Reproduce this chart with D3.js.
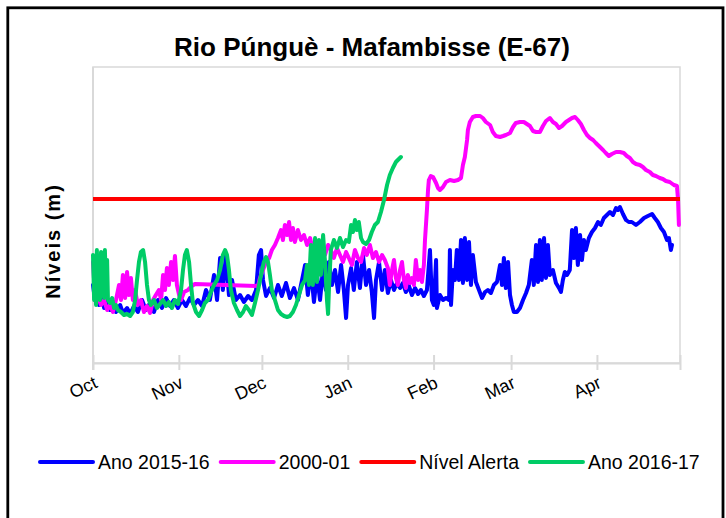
<!DOCTYPE html>
<html><head><meta charset="utf-8">
<script src="https://cdn.jsdelivr.net/npm/d3@7"></script>
<style>body{margin:0;background:#fff}svg{display:block}text{font-family:"Liberation Sans",Arial,sans-serif}</style>
</head><body>
<svg id="c" width="726" height="518"></svg>
<script>
// ---- data: [day since 1 Oct, level (m)] ----
const monthLabels = ["Oct","Nov","Dec","Jan","Feb","Mar","Apr",""];
const seriesNames = ["Ano 2015-16","2000-01","Nível Alerta","Ano 2016-17"];
const seriesColors = ["#0000ff","#ff00ff","#ff0000","#00cc66"];
const nivelAlerta = 1.64;

const ano201516 = [[0,0.78],[0.7,0.63],[1.4,0.88],[2.2,0.58],[2.9,0.73],[4,0.55],[5.1,0.63],[6.1,0.53],[7.2,0.60],[8.3,0.51],[9.8,0.58],[10.8,0.50],[12.3,0.55],[13.4,0.49],[14.8,0.57],[16.2,0.51],[17.7,0.63],[19.1,0.53],[20.6,0.60],[22,0.51],[23.5,0.63],[24.9,0.55],[26.4,0.65],[27.8,0.57],[29.2,0.63],[30.7,0.55],
[32.1,0.63],[33.6,0.57],[35,0.65],[36.5,0.58],[37.9,0.63],[39.4,0.57],[40.8,0.73],[42.2,0.63],[43.7,0.88],[44.8,0.63],[45.9,1.05],[46.9,0.73],[48,1.08],[49.1,0.68],[50.2,0.83],[51.6,0.63],[53.1,0.68],[54.5,0.61],[56,0.67],[57.4,0.63],[58.9,0.73],[59.9,1.08],[60.7,1.13],[61.4,0.83],
[62.5,0.67],[63.9,0.75],[65.4,0.65],[66.8,0.78],[68.2,0.67],[69.7,0.80],[71.1,0.65],[72.6,0.75],[74,0.63],[75.5,0.83],[76.6,0.98],[77.6,0.68],[78.7,0.93],[79.8,0.61],[80.9,0.88],[82,0.63],[83.1,0.95],[84.1,0.73],[85.2,1.01],[86.3,0.78],[87.4,0.93],[88.5,0.71],[89.6,0.98],[90.6,0.73],[91.4,0.45],[92.1,0.78],
[93.2,0.95],[94.2,0.73],[95.3,1.01],[96.4,0.75],[97.5,1.08],[98.6,0.78],[99.7,0.93],[100.7,0.71],[101.5,0.45],[102.2,0.83],[103.3,1.01],[104.4,0.73],[105.4,0.93],[106.5,0.70],[107.6,0.83],[108.7,0.73],[109.8,0.80],[110.9,0.75],[111.9,0.80],[113,0.71],[114.1,0.77],[115.2,0.68],[116.3,0.75],[117.4,0.69],[118.4,0.73],[119.5,0.67],[120.6,0.73],[121.7,1.13],[122.4,0.63],[123.1,0.58],[123.9,1.03],[124.2,0.55],
[125.3,0.68],[126.4,0.63],[127.5,0.65],[128.6,0.63],[128.9,1.13],[129.3,0.58],[130,0.93],[130.7,0.83],[131.4,1.13],[132.2,0.83],[132.9,1.23],[133.6,0.80],[134.3,1.25],[135.1,0.83],[135.8,1.21],[136.5,0.78],[137.2,1.08],[138.3,0.81],[139.4,0.73],[140.5,0.65],[141.6,0.71],[142.6,0.73],[143.7,0.70],[144.8,0.78],[145.9,0.81],[147,0.98],[147.7,0.78],[148.4,1.05],[149.1,0.75],[149.9,1.01],[150.6,0.68],[151.3,0.58],[152,0.51],[153.1,0.51],[154.2,0.55],[155.3,0.63],[156.4,0.70],[157.4,0.78],[158.5,1.03],[159.2,0.78],[160,1.18],[160.7,0.81],[161.4,1.23],[162.1,0.83],[162.9,1.25],[163.6,0.85],[164.3,1.18],[165,0.88],[166.1,0.93],[167.2,0.80],[168.3,0.75],[169,0.71],[169.7,0.83],[170.4,0.91],[171.2,0.88],[172.2,0.93],[173,1.33],[173.7,1.05],[174.4,1.35],[175.1,0.98],[175.9,1.28],[176.6,1.03],[177.3,1.23],[178,1.13],[179.1,1.25],[180.2,1.31],[181.3,1.35],[182.4,1.41],[183.4,1.38],[184.5,1.45],[185.6,1.48],[186.7,1.51],[187.8,1.48],[188.9,1.55],[189.6,1.53],[190.3,1.56],[191.4,1.49],[192.5,1.43],[193.5,1.41],[194.6,1.41],[196.1,1.38],[197.5,1.41],[199,1.45],[200.4,1.47],[201.9,1.49],[202.9,1.45],[204,1.41],[205.1,1.35],[206.2,1.31],[207.3,1.23],[208,1.25],[208.7,1.13],[209.1,1.18]];

const ano200001 = [[0,1.01],[0.7,0.68],[1.4,0.93],[2.2,0.63],[2.9,0.58],[4,0.63],[5.1,0.53],[6.1,0.58],[7.2,0.51],[8.3,0.63],[9.4,0.78],[10.1,0.63],[10.8,0.88],[11.6,0.65],[12.3,0.91],[13,0.68],[13.7,0.85],[14.4,0.63],[15.2,0.73],[16.2,0.58],[17.3,0.63],[18.4,0.51],[19.5,0.57],[20.6,0.50],[21.7,0.63],[22.7,0.68],[23.8,0.73],[24.6,0.63],[25.3,0.88],[26,0.73],[26.7,0.95],[27.4,0.78],[28.2,1.01],[28.9,0.83],[29.6,1.07],[30.3,0.78],[31.1,0.68],[31.8,0.63],[32.9,0.71],[34.3,0.73],[35.7,0.77],[36.8,0.79],
[59.6,0.77],[60.3,0.85],[61.4,0.93],[62.5,1.01],[63.6,1.05],[64.6,1.13],[65.7,1.18],[66.8,1.25],[67.9,1.33],[68.6,1.23],[69.3,1.38],[70.1,1.28],[70.8,1.41],[71.5,1.23],[72.2,1.35],[72.9,1.21],[74,1.33],[75.1,1.23],[76.2,1.28],[77.3,1.18],[78.4,1.25],[79.4,1.13],[80.5,1.21],[81.6,1.11],[82.7,1.15],[83.8,1.08],[84.9,1.18],[85.9,1.13],[87,1.05],[88.1,1.15],[89.2,1.08],[90.3,1.01],[91.4,1.11],[92.4,1.05],[93.5,0.98],[94.6,1.13],[95.7,1.05],[96.8,1.01],[97.9,1.15],[98.9,1.08],[100,1.18],[101.1,1.05],[102.2,1.11],[103.3,1.01],[104.4,1.08],[105.4,1.03],[106.5,0.95],[107.2,0.78],[108,0.93],[108.7,1.03],[109.4,0.85],[110.1,0.78],[110.9,0.93],[111.6,1.01],[112.3,0.83],[113,0.75],[113.7,0.88],[114.5,0.80],[115.2,0.85],[115.9,0.78],[116.6,1.03],[117.4,0.83],[118.1,0.93],[118.8,0.81],[119.5,0.98],[119.9,1.23],[120.6,1.53],[121,1.73],[121.3,1.83],[122,1.87],[122.8,1.86],[123.9,1.80],[124.6,1.75],[125.3,1.73],[126.4,1.76],[127.5,1.81],[128.9,1.83],[130.4,1.82],[131.8,1.83],[132.9,1.85],[133.6,1.98],[134.3,2.06],[135.1,2.23],[135.4,2.33],[136.1,2.41],[137.2,2.46],[138.3,2.47],[139.8,2.47],[140.8,2.45],[141.9,2.41],[143.4,2.38],[144.4,2.31],[145.5,2.27],[147,2.26],[148.1,2.27],[149.1,2.28],[150.6,2.30],[151.7,2.36],[152.7,2.40],[154.2,2.41],[155.6,2.41],[156.7,2.39],[157.8,2.37],[158.9,2.32],[160,2.31],[161.4,2.31],[162.5,2.37],[163.6,2.42],[165,2.45],[166.1,2.41],[167.2,2.39],[168.3,2.35],[169.4,2.37],[170.8,2.41],[171.9,2.43],[173,2.45],[174.1,2.46],[175.1,2.43],[176.2,2.39],[177.3,2.33],[178.4,2.28],[179.5,2.25],[180.6,2.23],[181.6,2.20],[183.1,2.16],[184.2,2.13],[185.2,2.10],[186.3,2.07],[187.4,2.09],[188.9,2.11],[190.3,2.11],[191.7,2.10],[192.8,2.07],[193.9,2.05],[195,2.01],[196.1,1.99],[197.5,1.98],[198.6,1.96],[199.7,1.93],[201.1,1.91],[202.2,1.88],[203.3,1.87],[204.7,1.85],[205.8,1.84],[206.9,1.82],[208.3,1.81],[209.8,1.78],[210.9,1.77],[211.3,1.63],[211.6,1.38]];

const ano201617 = [[0,1.08],[0.4,0.63],[0.7,0.98],[1.1,0.58],[1.4,1.13],[1.8,0.68],[2.2,1.01],[2.5,0.63],[2.9,1.11],[3.2,0.73],[3.6,1.05],[4,0.65],[4.3,1.13],[4.7,0.73],[5.1,1.03],[5.4,0.63],[6.1,0.60],[6.9,0.65],[7.6,0.55],[8.3,0.58],[9,0.53],[10.1,0.51],[11.2,0.48],[12.3,0.49],[13.4,0.47],[14.4,0.51],[15.2,0.63],[15.9,0.83],[16.6,1.01],[17.3,1.11],[18.1,1.13],[18.8,1.01],[19.5,0.78],[20.2,0.63],[20.9,0.58],[22,0.63],[23.1,0.55],[24.2,0.59],[25.3,0.63],[26.4,0.57],[27.4,0.61],[28.5,0.55],[29.6,0.63],[30.7,0.59],[31.8,0.73],[32.5,0.93],[33.2,1.08],[33.9,1.13],[34.7,1.01],[35.4,0.78],[36.1,0.60],[37.2,0.51],[38.3,0.47],[39.4,0.53],[40.4,0.60],[41.5,0.63],[42.6,0.71],[43.7,0.78],[44.8,0.83],[45.9,0.93],[46.9,1.08],[47.7,1.13],[48.4,1.08],[49.1,0.93],[49.8,0.73],[50.9,0.60],[52,0.53],[53.1,0.47],[54.2,0.51],[55.2,0.57],[56.3,0.53],[57.4,0.48],[58.5,0.60],[59.6,0.73],[60.7,0.88],[61.7,1.01],[62.5,1.06],[63.2,1.01],[63.9,0.88],[64.6,0.73],[65.7,0.63],[66.8,0.53],[67.9,0.49],[69,0.47],[70.1,0.46],[71.1,0.47],[72.2,0.51],[73.3,0.58],[74.4,0.68],[75.5,0.78],[76.6,0.83],[77.3,0.98],[78,0.78],[78.7,1.18],[79.4,0.78],[80.2,1.25],[80.9,0.81],[81.6,1.23],[82.3,0.88],[83.1,1.28],[83.8,1.01],[84.5,0.63],[84.9,0.49],[85.2,0.73],[85.9,1.13],[87,1.23],[88.1,1.15],[89.2,1.25],[90.3,1.16],[91.4,1.23],[92.4,1.21],[93.2,1.38],[93.9,1.31],[94.6,1.43],[95.3,1.33],[96,1.41],[96.8,1.25],[97.5,1.21],[98.6,1.19],[99.7,1.23],[100.7,1.31],[101.8,1.38],[102.9,1.41],[104,1.51],[105.1,1.63],[106.2,1.78],[107.2,1.88],[108.3,1.95],[109.4,2.01],[110.1,2.03],[111.2,2.06]];

// ---- chart ----
const svg = d3.select("#c");
const t0 = Date.UTC(2000,9,1), t1 = Date.UTC(2001,4,1);
const x = d3.scaleUtc().domain([t0,t1]).range([93,680]);
const y = d3.scaleLinear().domain([0,2.96]).range([363,67]);
const toDate = d => new Date(t0 + d*864e5);

// outer chart border (open at bottom, cropped)
svg.append("rect").attr("x",7.8).attr("y",7.8).attr("width",715.2).attr("height",600)
  .attr("fill","none").attr("stroke","#000").attr("stroke-width",2.8);

// plot area
svg.append("rect").attr("x",x.range()[0]).attr("y",y.range()[1])
  .attr("width",x.range()[1]-x.range()[0]).attr("height",y.range()[0]-y.range()[1])
  .attr("fill","none").attr("stroke","#d9d9d9").attr("stroke-width",1.5);

// title
svg.append("text").attr("x",372).attr("y",56).attr("text-anchor","middle")
  .attr("font-size",26).attr("font-weight","bold").text("Rio Púnguè - Mafambisse (E-67)");

// y label
svg.append("text").attr("transform","translate(60,241) rotate(-90)").attr("text-anchor","middle")
  .attr("font-size",20).attr("font-weight","bold").attr("letter-spacing",2).text("Níveis (m)");

// y axis line
svg.append("line").attr("x1",93).attr("x2",93).attr("y1",67).attr("y2",370)
  .attr("stroke","#d9d9d9").attr("stroke-width",2);

// x axis
const months = d3.utcMonth.range(t0, t1+1);
const xAxis = d3.axisBottom(x).tickValues(months).tickSizeOuter(0)
  .tickFormat((d,i)=>monthLabels[i]);
const gx = svg.append("g").attr("transform","translate(0,363)").call(xAxis);
gx.select(".domain").attr("stroke","#d9d9d9").attr("stroke-width",2);
gx.selectAll(".tick line").attr("y1",-8).attr("y2",7).attr("stroke","#d9d9d9").attr("stroke-width",2);
gx.selectAll(".tick text").attr("font-size",18).attr("fill","#000")
  .attr("font-family","Liberation Sans, Arial, sans-serif")
  .attr("text-anchor","end").attr("dy",null).attr("y",0)
  .attr("transform","translate(5,24) rotate(-25)");

// series
const line = d3.line().x(d=>x(toDate(d[0]))).y(d=>y(d[1])).curve(d3.curveLinear);
const plot = svg.append("g").attr("fill","none").attr("stroke-width",4)
  .attr("stroke-linejoin","round").attr("stroke-linecap","round");
plot.append("path").datum(ano201516).attr("stroke",seriesColors[0]).attr("d",line);
plot.append("path").datum(ano200001).attr("stroke",seriesColors[1]).attr("d",line);
plot.append("path").datum([[0,nivelAlerta],[212,nivelAlerta]]).attr("stroke",seriesColors[2])
  .attr("stroke-linecap","butt").attr("d",line);
plot.append("path").datum(ano201617).attr("stroke",seriesColors[3]).attr("d",line);

// legend
const lg = svg.append("g");
let lx = 40;
seriesNames.forEach((n,i)=>{
  lg.append("line").attr("x1",lx).attr("x2",lx+53).attr("y1",462).attr("y2",462)
    .attr("stroke",seriesColors[i]).attr("stroke-width",4).attr("stroke-linecap","round");
  const t = lg.append("text").attr("x",lx+58).attr("y",469).attr("font-size",19.5).text(n);
  lx += 58 + t.node().getComputedTextLength() + 11;
});
</script>
</body></html>
